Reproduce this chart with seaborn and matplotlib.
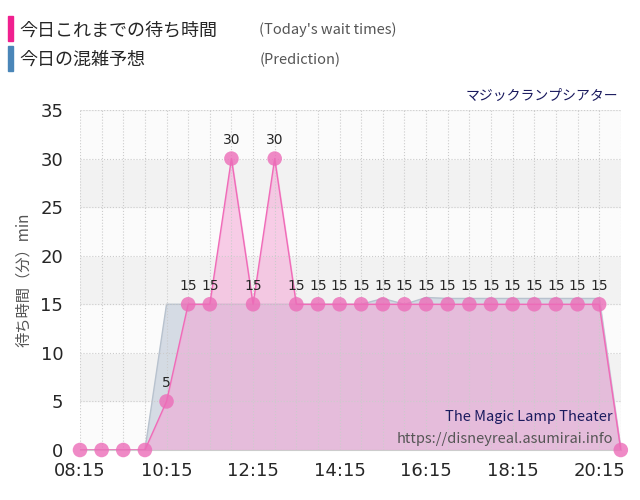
import matplotlib
matplotlib.use("Agg")
import matplotlib.pyplot as plt
import matplotlib.patches as mpatches
import seaborn as sns
import numpy as np

times = ["08:15", "08:45", "09:15", "09:45", "10:15", "10:45", "11:15", "11:45", "12:15",
         "12:45", "13:15", "13:45", "14:15", "14:45", "15:15", "15:45", "16:15", "16:45",
         "17:15", "17:45", "18:15", "18:45", "19:15", "19:45", "20:15", "20:45"]
waits = [0, 0, 0, 0, 5, 15, 15, 30, 15, 30, 15, 15, 15, 15, 15, 15, 15, 15,
         15, 15, 15, 15, 15, 15, 15, 0]
pred_times = ["08:15", "09:45", "10:15", "14:45", "15:15", "15:45", "16:15", "16:45",
              "19:45", "20:15", "20:45"]
pred_vals = [0, 0, 15, 15, 15.6, 15, 15.7, 15.6, 15.6, 15.6, 0]
tick_labels = ["08:15", "10:15", "12:15", "14:15", "16:15", "18:15", "20:15"]


def to_h(t):
    h, m = t.split(":")
    return int(h) + int(m) / 60


x = np.array([to_h(t) for t in times])
px = np.array([to_h(t) for t in pred_times])

sns.set_style("white")
plt.rcParams['font.family'] = ['Noto Sans CJK JP', 'DejaVu Sans']

fig = plt.figure(figsize=(6.4, 5.0), dpi=100)
ax = fig.add_axes([0.125, 0.1, 0.845, 0.68])

# background bands
for lo in range(0, 35, 10):
    ax.axhspan(lo, lo + 5, color="#fbfbfb", zorder=0)
    ax.axhspan(lo + 5, lo + 10, color="#f2f2f2", zorder=0)

ax.fill_between(px, pred_vals, color="#d3dae3", alpha=0.95, zorder=1)
ax.plot(px, pred_vals, color="#b8c2ce", lw=1, zorder=1)
ax.fill_between(x, waits, color="#f59fd3", alpha=0.5, zorder=2)
sns.lineplot(x=x, y=waits, ax=ax, color="#f06bb8", lw=1, zorder=3)
sns.scatterplot(x=x, y=waits, ax=ax, color="#ec6db8", s=110, alpha=0.8,
                edgecolor="none", zorder=4, clip_on=False)
for xi, yi in zip(x[:-1], waits[:-1]):
    if yi > 0:
        ax.text(xi, yi + 1.2, str(yi), ha="center", va="bottom", fontsize=10,
                family="DejaVu Sans", zorder=5)

ax.set_xlim(to_h("08:15"), to_h("20:45"))
ax.set_ylim(0, 35)
ax.set_xticks([to_h(t) for t in tick_labels])
ax.set_xticklabels(tick_labels, fontsize=13, family="DejaVu Sans")
ax.set_xticks(np.arange(to_h("08:45"), 21, 0.5), minor=True)
ax.set_yticks(range(0, 36, 5))
ax.set_yticklabels([str(v) for v in range(0, 36, 5)], fontsize=13, family="DejaVu Sans")
ax.grid(True, which="both", color="#cccccc", ls=":", lw=0.8)
ax.set_axisbelow(False)
for s in ["top", "right", "left"]:
    ax.spines[s].set_visible(False)
ax.spines["bottom"].set_color("#cccccc")
ax.tick_params(length=0)
ax.tick_params(axis="x", pad=9)
ax.tick_params(axis="y", pad=12)
ax.set_ylabel("待ち時間（分）min", fontsize=11, color="#555555", labelpad=6)
ax.text(0.995, 1.03, "マジックランプシアター", transform=ax.transAxes, ha="right",
        fontsize=10, color="#1a1a5e")
ax.text(0.985, 0.085, "The Magic Lamp Theater", transform=ax.transAxes, ha="right",
        fontsize=10.5, color="#1a1a5e")
ax.text(0.985, 0.02, "https://disneyreal.asumirai.info", transform=ax.transAxes,
        ha="right", fontsize=10.5, color="#555555")

# legend
fig.patches.append(mpatches.Rectangle((0.012, 0.918), 0.008, 0.05, color="#f0208f",
                                      transform=fig.transFigure, figure=fig))
fig.patches.append(mpatches.Rectangle((0.012, 0.858), 0.008, 0.05, color="#4a86b8",
                                      transform=fig.transFigure, figure=fig))
fig.text(0.03, 0.94, "今日これまでの待ち時間", fontsize=13, va="center")
fig.text(0.03, 0.88, "今日の混雑予想", fontsize=13, va="center")
fig.text(0.405, 0.94, "(Today's wait times)", fontsize=10.5, va="center", color="#555555")
fig.text(0.405, 0.88, "(Prediction)", fontsize=10.5, va="center", color="#555555")

fig.savefig("out.png", dpi=100)
